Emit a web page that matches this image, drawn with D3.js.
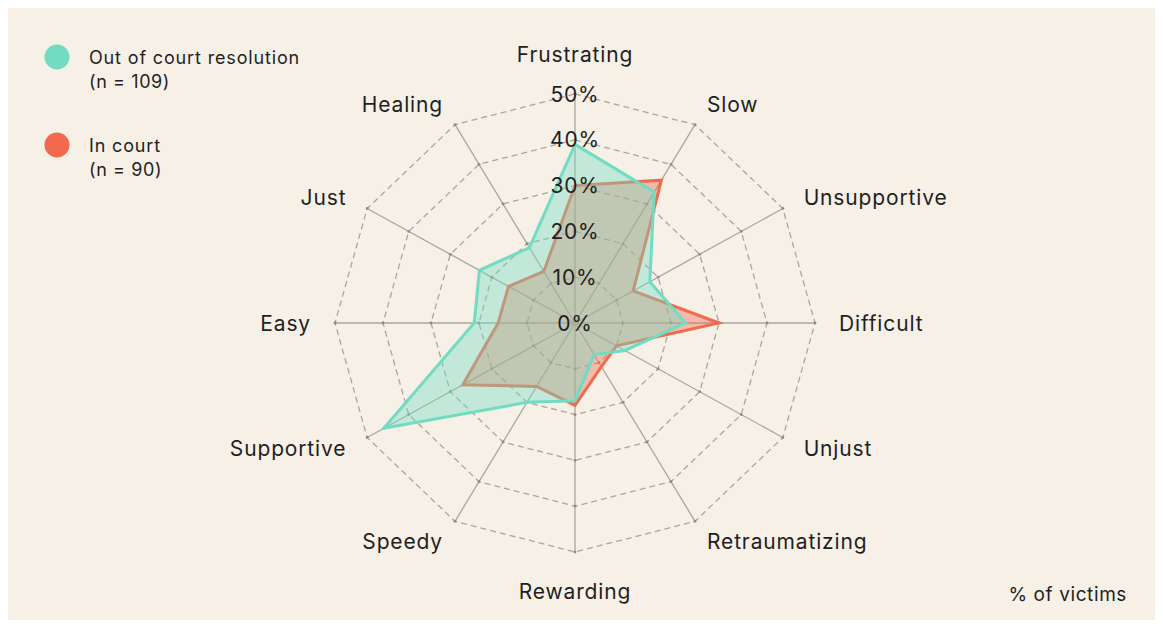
<!DOCTYPE html>
<html>
<head>
<meta charset="utf-8">
<script src="https://cdn.jsdelivr.net/npm/d3@7"></script>
<style>
  html, body { margin: 0; padding: 0; background: #ffffff; }
  svg text { font-family: Inter, "Open Sans", sans-serif; fill: #1f1f1f; }
</style>
</head>
<body>
<div id="chart"></div>
<script>
// axes, clockwise from the top
const axes = ['Frustrating', 'Slow', 'Unsupportive', 'Difficult', 'Unjust', 'Retraumatizing',
    'Rewarding', 'Speedy', 'Supportive', 'Easy', 'Just', 'Healing'];
// % of victims
const outOfCourt = [39, 33, 18, 23, 12, 8, 17, 20, 46, 21, 23, 19];
const inCourt = [30, 36, 14, 30, 10, 11, 18, 16, 27, 16, 16, 13];
const ringTicks = [10, 20, 30, 40, 50];
const ringLabels = ['0%', '10%', '20%', '30%', '40%', '50%'];
const seriesNames = ['Out of court resolution', 'In court'];
const seriesCounts = ['(n = 109)', '(n = 90)'];

const config = {
    width: 1163,
    height: 628,
    cx: 575,
    cy: 323,
    colors: {
        bg: '#f6f0e7',
        teal: '#72dcc3',
        red: '#f26a4e',
        grid: '#a9a79c'
    }
};

const svg = d3.select('#chart')
    .append('svg')
    .attr('width', config.width)
    .attr('height', config.height);

svg.append('rect')
    .attr('x', 8).attr('y', 8)
    .attr('width', 1147).attr('height', 612)
    .attr('fill', config.colors.bg);

// the picture is a little wider than tall
const rx = d3.scaleLinear().domain([0, 50]).range([0, 240]);
const ry = d3.scaleLinear().domain([0, 50]).range([0, 229]);
const angle = d3.scaleLinear().domain([0, axes.length]).range([0, 2 * Math.PI]);

const px = (i, v) => config.cx + Math.sin(angle(i)) * rx(v);
const py = (i, v) => config.cy - Math.cos(angle(i)) * ry(v);

const grid = svg.append('g').attr('class', 'grid');

// dashed rings
ringTicks.forEach(t => {
    const pts = axes.map((a, i) => [px(i, t), py(i, t)]);
    grid.append('path')
        .attr('d', d3.line().curve(d3.curveLinearClosed)(pts))
        .attr('fill', 'none')
        .attr('stroke', config.colors.grid)
        .attr('stroke-width', 1.3)
        .attr('stroke-dasharray', '6,4');
});

// spokes
grid.selectAll('line')
    .data(axes)
    .join('line')
    .attr('x1', config.cx).attr('y1', config.cy)
    .attr('x2', (d, i) => px(i, 50))
    .attr('y2', (d, i) => py(i, 50))
    .attr('stroke', config.colors.grid)
    .attr('stroke-width', 1.3);

// small dots where rings cross spokes
ringTicks.forEach(t => {
    grid.append('g').selectAll('circle')
        .data(axes)
        .join('circle')
        .attr('cx', (d, i) => px(i, t))
        .attr('cy', (d, i) => py(i, t))
        .attr('r', 1.4)
        .attr('fill', '#8f8d83');
});

// series polygons: in court below, out of court on top
const polyLine = d3.line().curve(d3.curveLinearClosed);
const series = [
    { values: inCourt, color: config.colors.red },
    { values: outOfCourt, color: config.colors.teal }
];
series.forEach(s => {
    svg.append('path')
        .attr('d', polyLine(s.values.map((v, i) => [px(i, v), py(i, v)])))
        .attr('fill', s.color)
        .attr('fill-opacity', 0.4)
        .attr('stroke', s.color)
        .attr('stroke-width', 3)
        .attr('stroke-linejoin', 'miter');
});

// ring value labels on the top spoke
svg.append('g').selectAll('text')
    .data(ringLabels)
    .join('text')
    .attr('x', config.cx)
    .attr('y', (d, i) => config.cy - ry(i * 10))
    .attr('text-anchor', 'middle')
    .attr('dominant-baseline', 'central')
    .attr('font-size', 21)
    .attr('letter-spacing', 0.8)
    .text(d => d);

// axis labels
svg.append('g').selectAll('text')
    .data(axes)
    .join('text')
    .attr('x', (d, i) => px(i, 55))
    .attr('y', (d, i) => {
        const c = Math.cos(angle(i));
        if (Math.abs(Math.sin(angle(i))) < 0.01) return config.cy - c * (ry(55) + 17);
        return py(i, 55);
    })
    .attr('text-anchor', (d, i) => {
        const s = Math.sin(angle(i));
        if (Math.abs(s) < 0.01) return 'middle';
        return s > 0 ? 'start' : 'end';
    })
    .attr('dominant-baseline', 'central')
    .attr('font-size', 21)
    .attr('letter-spacing', 0.85)
    .text(d => d);

// legend
const legend = svg.append('g').attr('class', 'legend');
[config.colors.teal, config.colors.red].forEach((c, i) => {
    const y0 = 57 + i * 88;
    legend.append('circle')
        .attr('cx', 57).attr('cy', y0)
        .attr('r', 12.5)
        .attr('fill', c);
    legend.append('text')
        .attr('x', 89).attr('y', y0)
        .attr('dominant-baseline', 'central')
        .attr('font-size', 18)
        .attr('letter-spacing', 0.85)
        .text(seriesNames[i]);
    legend.append('text')
        .attr('x', 89).attr('y', y0 + 24)
        .attr('dominant-baseline', 'central')
        .attr('font-size', 18)
        .attr('letter-spacing', 0.6)
        .text(seriesCounts[i]);
});

svg.append('text')
    .attr('x', 1127).attr('y', 594)
    .attr('text-anchor', 'end')
    .attr('dominant-baseline', 'central')
    .attr('font-size', 19)
    .attr('letter-spacing', 0.6)
    .text('% of victims');
</script>
</body>
</html>
